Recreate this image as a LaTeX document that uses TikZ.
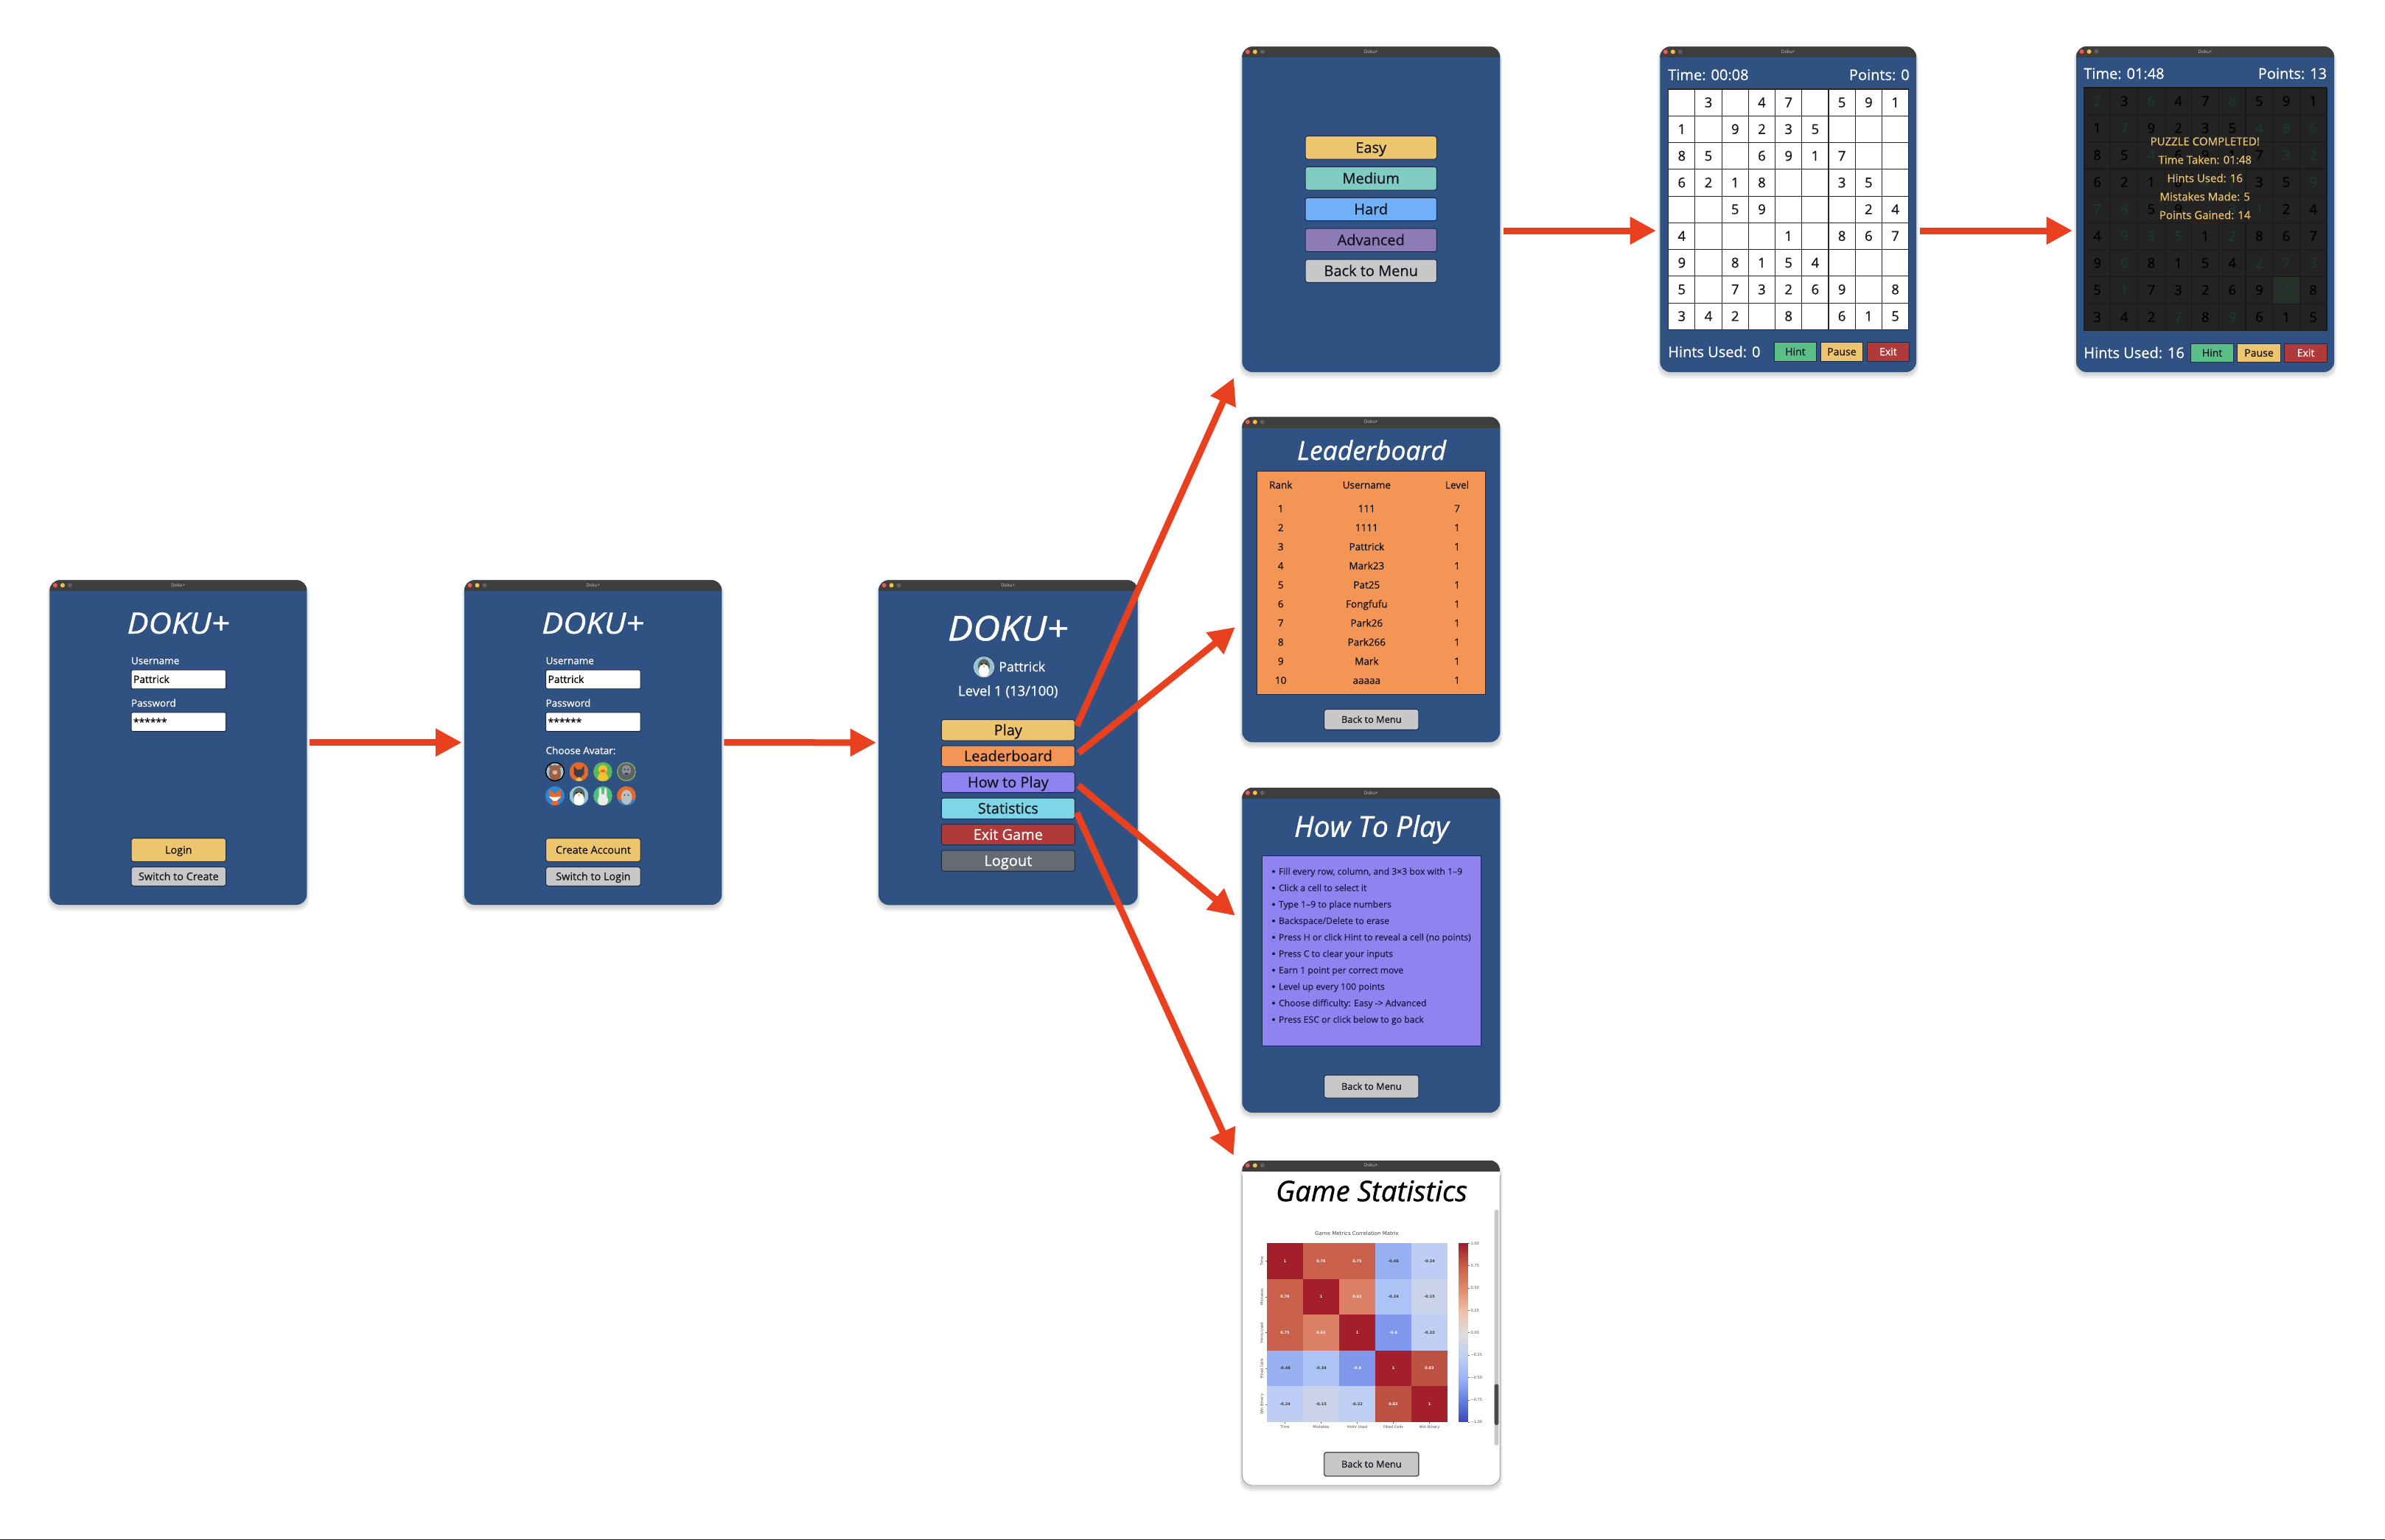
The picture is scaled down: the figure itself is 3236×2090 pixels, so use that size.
\documentclass[tikz,border=0pt]{standalone}
\usepackage{fontspec}
\setmainfont{Open Sans}
\newfontfamily\semi{Open Sans}[FakeBold=0.6]
\newfontfamily\ttl{Open Sans}[FakeBold=1]
\newfontfamily\ttlw{Open Sans}[FakeBold=1,FakeStretch=1.1]
\newfontfamily\plotf{DejaVu Sans}
\usetikzlibrary{arrows.meta,calc}
\definecolor{winblue}{HTML}{305282}
\definecolor{barc}{HTML}{3F3E3D}
\definecolor{edgec}{HTML}{1E2A45}
\definecolor{arrowc}{HTML}{E9411F}
\definecolor{yel}{HTML}{EDC56F}
\definecolor{ora}{HTML}{F29555}
\definecolor{pur}{HTML}{8F84EF}
\definecolor{cya}{HTML}{7ED5E6}
\definecolor{redb}{HTML}{B03A3A}
\definecolor{grb}{HTML}{666B73}
\definecolor{lgr}{HTML}{C8C8C8}
\definecolor{med}{HTML}{80CBC2}
\definecolor{har}{HTML}{70B0F8}
\definecolor{adv}{HTML}{8C7BB7}
\definecolor{grn}{HTML}{5AC088}
\definecolor{darkt}{HTML}{14141E}
\definecolor{overc}{HTML}{232323}
\definecolor{hintd}{HTML}{1A3A32}
\definecolor{hr}{HTML}{A21F2B}
\definecolor{hs}{HTML}{C9604B}
\definecolor{ht}{HTML}{DB8064}
\definecolor{he}{HTML}{BD5142}
\definecolor{bf}{HTML}{98B0F1}
\definecolor{bt}{HTML}{BDCDF4}
\definecolor{bh}{HTML}{ADC3F5}
\definecolor{bo}{HTML}{CAD3EA}
\definecolor{bw}{HTML}{BFCFF3}
\definecolor{bx}{HTML}{8098EC}
\definecolor{cba}{HTML}{A21C29}
\definecolor{cbb}{HTML}{C9614A}
\definecolor{cbc}{HTML}{DE8C6B}
\definecolor{cbd}{HTML}{F0BFA8}
\definecolor{cbe}{HTML}{DEDCDC}
\definecolor{cbf}{HTML}{BFCFF2}
\definecolor{cbg}{HTML}{99B3F5}
\definecolor{cbh}{HTML}{5F80E0}
\definecolor{cbi}{HTML}{3B47B5}
\colorlet{hmw}{white}
\colorlet{hmk}{black!80}
\definecolor{dotr}{HTML}{EC5A55}
\definecolor{doty}{HTML}{F3BD4F}
\definecolor{dotg}{HTML}{606060}
\definecolor{avbb}{HTML}{9CC4DC}
\definecolor{avbr}{HTML}{9A6048}
\definecolor{avbl}{HTML}{D9B59A}
\definecolor{avor}{HTML}{E8682A}
\definecolor{avdk}{HTML}{3A3F4A}
\definecolor{avyl}{HTML}{F2C230}
\definecolor{avgn}{HTML}{58B85C}
\definecolor{avlm}{HTML}{8AB04A}
\definecolor{avgr}{HTML}{5A6466}
\definecolor{avgl}{HTML}{8A9496}
\definecolor{avbu}{HTML}{2F86D6}
\definecolor{avpb}{HTML}{8FC6D2}
\definecolor{avga}{HTML}{4FBF78}
\definecolor{gcell}{HTML}{263028}
\definecolor{dred}{HTML}{3A1C1C}
\definecolor{hnav}{HTML}{1C1B48}
\definecolor{thumb}{HTML}{4A4A4A}
\newcommand{\vc}[1]{\smash{\raisebox{-.35em}{#1}}}
\newcount\nn
\newcommand{\tx}[3][]{\global\advance\nn by 1 \node[txt,#1] (t\the\nn) at (#2) {\vc{#3}};}
\newcommand{\win}[6]{%
 \foreach \sh in {1,...,7}{\fill[black,opacity=.022,rounded corners=15] (#2-\sh*.5,#3+3) rectangle (#4+\sh*.5,#5+2+\sh);}
 \pgfmathsetmacro\cxa{(#2+#4)/2}\pgfmathsetmacro\cya{(#3+#5)/2}
 \pgfmathsetmacro\wa{#4-#2}\pgfmathsetmacro\ha{#5-#3}
 \node[winbox,fill=#6,minimum width=\wa,minimum height=\ha] (#1) at (\cxa,\cya) {};
 \begin{scope}
 \clip[rounded corners=14] (#2,#3) rectangle (#4,#5);
 \fill[barc] (#2,#3) rectangle (#4,#3+15);
 \end{scope}
 \fill[dotr] (#2+7.5,#3+7) circle (3);
 \fill[doty] (#2+17.5,#3+7) circle (3);
 \fill[dotg] (#2+27.5,#3+7) circle (3);
 \tx[font=\fontsize{6.2}{7}\selectfont,text=lgr]{\cxa,#3+7}{Doku+}
}
\newcommand{\btn}[7][]{%
 \pgfmathsetmacro\hb{#5-#4}\pgfmathsetmacro\cyb{(#4+#5)/2}
 \node[btnbox,fill=#6,minimum height=\hb,#1] (#2) at (#3,\cyb) {\vc{#7}};
}
\newcommand{\ava}[3]{%
 \begin{scope}[shift={(#1,#2)}]
 \clip (0,0) circle (13);
 #3
 \end{scope}
}
\newcommand{\penguin}{\fill[avpb] (-13,-13) rectangle (13,13);\fill[avgr] (0,-1) ellipse (8 and 10);\fill[white] (0,5) ellipse (7 and 9);\fill[black] (-3,-4) circle (1.2);\fill[black] (3,-4) circle (1.2);\fill[avyl] (-2,-2)--(2,-2)--(0,1)--cycle;}
\def\hmcell#1:#2:#3\relax{%
 \fill[#1] (1719+49*\c,1687.3+48.53*\r) rectangle ++(49,48.53);
 \tx[hm,text=hm#3]{1743.5+49*\c,1711.6+48.53*\r}{#2}
}
\tikzset{
 txt/.style={inner sep=0,outer sep=0,anchor=center},
 winbox/.style={rectangle,rounded corners=14,inner sep=0,outer sep=0},
 btnbox/.style={rectangle,rounded corners=3,draw=edgec,line width=1,inner sep=0,outer sep=0,text=darkt,anchor=center},
 flatbtn/.style={rounded corners=0},
 inp/.style={rectangle,rounded corners=2,draw=edgec,line width=1,fill=white,inner sep=0,outer sep=0,minimum width=128.5,minimum height=25.7},
 flow/.style={draw=arrowc,line width=9,-{Triangle[length=35.5pt,width=35.5pt]}},
 lab/.style={font=\fontsize{13.5}{16}\semi,text=white,anchor=west},
 sb/.style={minimum width=128.5,font=\fontsize{14.4}{16}\semi},
}
\begin{document}
\begin{tikzpicture}[x=1pt,y=-1pt]
\useasboundingbox (0,0) rectangle (3236,2090);
\fill[white] (0,0) rectangle (3236,2090);
\fill[black!85] (0,2088.5) rectangle (3236,2090);
% ---------- Login
\win{wlogin}{67.4}{787.3}{416.3}{1228}{winblue}
\win{wcreate}{630}{787.3}{979.4}{1228}{winblue}
\foreach \dx/\nm in {0/a,562.6/b}{
 \tx[text=white,font=\fontsize{39.5}{44}\ttlw\itshape]{242+\dx,846}{DOKU+}
 \tx[lab]{178+\dx,896.7}{Username}
 \node[inp] (in1\nm) at (242.3+\dx,922) {};
 \tx[anchor=west,text=black,font=\fontsize{13.8}{16}\semi]{181+\dx,922}{Pattrick}
 \tx[lab]{178+\dx,954.3}{Password}
 \node[inp] (in2\nm) at (242.3+\dx,979.7) {};
 \tx[anchor=west,text=black,font=\fontsize{13.8}{16}\semi]{181+\dx,980}{******}
}
\btn[sb]{bl}{242.3}{1137.7}{1169.3}{yel}{Login}
\btn[sb]{bs}{242.3}{1176.7}{1202.3}{lgr}{Switch to Create}
\btn[sb]{bc}{804.9}{1137.7}{1169.3}{yel}{Create Account}
\btn[sb]{bt}{804.9}{1176.7}{1202.3}{lgr}{Switch to Login}
\tx[lab]{740.6,1018.7}{Choose Avatar:}
% avatars
\ava{753}{1047.3}{\fill[avbb] (-13,-13) rectangle (13,13);\fill[avbr] (0,2) ellipse (8 and 11);\fill[avbr] (-6,-7) circle (2.5);\fill[avbr] (6,-7) circle (2.5);\fill[avbl] (0,1) ellipse (3.5 and 3);}
\draw[black,line width=1.5] (753,1047.3) circle (12.5);
\ava{785.5}{1047.3}{\fill[avor] (-13,-13) rectangle (13,13);\fill[avdk] (-7,-8)--(-3,-3)--(3,-3)--(7,-8)--(7,3)--(0,10)--(-7,3)--cycle;\fill[avyl] (-4,10)--(0,7)--(4,10)--(4,13)--(-4,13)--cycle;}
\ava{818}{1047.3}{\fill[avgn] (-13,-13) rectangle (13,13);\fill[avyl] (0,-3) circle (6);\fill[avyl] (0,8) ellipse (7 and 7);\fill[avor] (0,-1) ellipse (3.5 and 2);}
\ava{850}{1047.3}{\fill[avlm] (-13,-13) rectangle (13,13);\fill[avgr] (0,0) circle (11.5);\fill[avgl] (0,-2) ellipse (6 and 7);\fill[avdk] (-2.3,-3) circle (1.3);\fill[avdk] (2.3,-3) circle (1.3);\fill[avdk] (0,3) ellipse (3 and 1.5);}
\ava{753}{1080}{\fill[avbu] (-13,-13) rectangle (13,13);\fill[avor] (-8,-9)--(0,-3)--(8,-9)--(8,3)--(0,9)--(-8,3)--cycle;\fill[white] (-8,1)--(0,9)--(8,1)--(0,2)--cycle;\fill[avor] (0,12) ellipse (6 and 5);}
\ava{785.5}{1080}{\penguin}
\ava{818}{1080}{\fill[avga] (-13,-13) rectangle (13,13);\fill[white!92!black] (-3.5,-3) ellipse (2 and 8);\fill[white!92!black] (3.5,-3) ellipse (2 and 8);\fill[white!92!black] (0,6) ellipse (7 and 8);}
\ava{850}{1080}{\fill[avor] (-13,-13) rectangle (13,13);\fill[avbu] (-13,5) rectangle (13,13);\fill[avgl!60!white] (0,2) ellipse (7.5 and 10);\fill[avdk] (-2.5,-1) circle (1);\fill[avdk] (2.5,-1) circle (1);}
% ---------- Menu
\win{wmenu}{1192}{787.3}{1543.7}{1228.3}{winblue}
\tx[text=white,font=\fontsize{46.5}{50}\ttlw\itshape]{1367.7,853}{DOKU+}
\ava{1335}{905.3}{\penguin}
\draw[white!85!black,line width=1] (1335,905.3) circle (13.5);
\tx[text=white,anchor=west,font=\fontsize{17.8}{20}\semi]{1355.3,905}{Pattrick}
\tx[text=white,font=\fontsize{18.6}{20}\semi]{1367.7,937.7}{Level 1 (13/100)}
\tikzset{mb/.style={minimum width=181,font=\fontsize{20}{24}\semi}}
\btn[mb]{mplay}{1367.8}{976.7}{1005}{yel}{Play}
\btn[mb]{mlead}{1367.8}{1012}{1040.3}{ora}{Leaderboard}
\btn[mb]{mhow}{1367.8}{1047.7}{1075.7}{pur}{How to Play}
\btn[mb]{mstat}{1367.8}{1083}{1111.3}{cya}{Statistics}
\btn[mb,text=white]{mexit}{1367.8}{1118.7}{1146.7}{redb}{Exit Game}
\btn[mb,text=white]{mlog}{1367.8}{1154}{1182.3}{grb}{Logout}
% ---------- Difficulty
\win{wdiff}{1685.3}{63.3}{2035.3}{505}{winblue}
\tikzset{db/.style={minimum width=178.3,font=\fontsize{20}{24}\semi}}
\btn[db]{deasy}{1860.2}{184.7}{216}{yel}{Easy}
\btn[db]{dmed}{1860.2}{226.3}{258}{med}{Medium}
\btn[db]{dhard}{1860.2}{268.3}{299.7}{har}{Hard}
\btn[db]{dadv}{1860.2}{310}{341.7}{adv}{Advanced}
\btn[db]{dback}{1860.2}{352}{383.3}{lgr}{Back to Menu}
% ---------- Sudoku
\win{wgame}{2252.3}{63.3}{2600}{505}{winblue}
\tikzset{gt/.style={text=white,font=\fontsize{20}{24}\semi}}
\tx[gt,anchor=west]{2263.3,101.7}{Time: 00:08}
\tx[gt,anchor=east]{2590.7,101.7}{Points: 0}
\tx[gt,anchor=west]{2263.3,477.7}{Hints Used: 0}
\fill[white] (2263.7,121) rectangle (2589.7,447.3);
\foreach \i in {0,...,9}{
 \pgfmathsetmacro\xx{2263.7+36.22*\i}\pgfmathsetmacro\yy{121+36.26*\i}
 \pgfmathparse{mod(\i,3)==0?1.4:1}\let\lw\pgfmathresult
 \draw[black!85,line width=\lw] (\xx,121) -- (\xx,447.3);
 \draw[black!85,line width=\lw] (2263.7,\yy) -- (2589.7,\yy);
}
\foreach \r/\row in {0/{0,3,0,4,7,0,5,9,1},1/{1,0,9,2,3,5,0,0,0},2/{8,5,0,6,9,1,7,0,0},3/{6,2,1,8,0,0,3,5,0},4/{0,0,5,9,0,0,0,2,4},5/{4,0,0,0,1,0,8,6,7},6/{9,0,8,1,5,4,0,0,0},7/{5,0,7,3,2,6,9,0,8},8/{3,4,2,0,8,0,6,1,5}}{
 \foreach \d [count=\c from 0] in \row {
  \ifnum\d>0 \tx[text=darkt,font=\fontsize{18.5}{22}\semi]{2281.8+36.22*\c,139.1+36.26*\r}{\d}\fi
 }
}
\tikzset{gb/.style={flatbtn,minimum width=57.7,font=\fontsize{14}{16}\semi}}
\btn[gb]{ghint}{2435.9}{464.7}{490}{grn}{Hint}
\btn[gb]{gpause}{2498.9}{464.7}{490}{yel}{Pause}
\btn[gb,text=white]{gexit}{2561.9}{464.7}{490}{redb}{Exit}
% ---------- Completed
\win{wdone}{2817}{63}{3167}{505}{winblue}
\tx[gt,anchor=west]{2827.3,100}{Time: 01:48}
\tx[gt,anchor=east]{3157,100}{Points: 13}
\tx[gt,anchor=west]{2827.3,479}{Hints Used: 16}
\fill[overc] (2827.3,119) rectangle (3157,448.7);
\fill[gcell] (2827.3+36.63*7,119+36.63*7) rectangle ++(36.63,36.63);
\foreach \i in {0,...,9}{
 \pgfmathsetmacro\xx{2827.3+36.63*\i}\pgfmathsetmacro\yy{119+36.63*\i}
 \pgfmathparse{mod(\i,3)==0?1.4:1}\let\lw\pgfmathresult
 \draw[black!90,line width=\lw] (\xx,119) -- (\xx,448.7);
 \draw[black!90,line width=\lw] (2827.3,\yy) -- (3157,\yy);
}
\draw[dred,line width=1] (2827.3+36.63*4,119+36.63*4) rectangle ++(36.63,36.63);
\foreach \r/\row/\gv in {0/{2,3,6,4,7,8,5,9,1}/{0,1,0,1,1,0,1,1,1},1/{1,7,9,2,3,5,4,8,6}/{1,0,1,1,1,1,0,0,0},2/{8,5,4,6,9,1,7,3,2}/{1,1,0,1,1,1,1,0,0},3/{6,2,1,8,4,7,3,5,9}/{1,1,1,1,0,0,1,1,0},4/{7,8,5,9,0,3,1,2,4}/{0,0,1,1,0,0,0,1,1},5/{4,9,3,5,1,2,8,6,7}/{1,0,0,0,1,0,1,1,1},6/{9,6,8,1,5,4,2,7,3}/{1,0,1,1,1,1,0,0,0},7/{5,1,7,3,2,6,9,4,8}/{1,0,1,1,1,1,1,0,1},8/{3,4,2,7,8,9,6,1,5}/{1,1,1,0,1,0,1,1,1}}{
 \foreach \d [count=\c from 0] in \row {
  \ifnum\d>0
   \pgfmathparse{{\gv}[\c]}\pgfmathtruncatemacro\gg{\pgfmathresult}
   \ifnum\gg=1 \def\dc{black}\else\def\dc{hintd}\fi
   \tx[text=\dc,font=\fontsize{18.5}{22}\semi]{2845.6+36.63*\c,137.3+36.63*\r}{\d}
  \fi
 }
}
\tikzset{ov/.style={text=yel,font=\fontsize{15}{18}\semi}}
\tx[ov]{2991.7,192}{PUZZLE COMPLETED!}
\tx[ov]{2991.7,217}{Time Taken: 01:48}
\tx[ov]{2991.7,242}{Hints Used: 16}
\tx[ov]{2991.7,267}{Mistakes Made: 5}
\tx[ov]{2991.7,292}{Points Gained: 14}
\btn[gb,minimum width=58.4]{dhint}{3001.5}{466.3}{491.7}{grn}{Hint}
\btn[gb,minimum width=58.4]{dpause}{3065}{466.3}{491.7}{yel}{Pause}
\btn[gb,minimum width=58.4,text=white]{dexit}{3128.5}{466.3}{491.7}{redb}{Exit}
% ---------- Leaderboard
\win{wlead}{1685.3}{565.7}{2035.3}{1007.3}{winblue}
\tx[text=white,font=\fontsize{35.5}{42}\ttl\itshape]{1861,611.7}{Leaderboard}
\node[rectangle,draw=edgec,line width=1,fill=ora,inner sep=0,minimum width=310,minimum height=303.3] (ltab) at (1860.7,790.7) {};
\tikzset{lt/.style={text=darkt,font=\fontsize{13.5}{17}\semi}}
\tx[lt]{1737.7,658.3}{Rank}\tx[lt]{1854.3,658.3}{Username}\tx[lt]{1977,658.3}{Level}
\foreach \i/\u/\l [count=\k from 0] in {1/111/7,2/1111/1,3/Pattrick/1,4/Mark23/1,5/Pat25/1,6/Fongfufu/1,7/Park26/1,8/Park266/1,9/Mark/1,10/aaaaa/1}{
 \tx[lt]{1737.7,690.3+25.9*\k}{\i}\tx[lt]{1854.3,690.3+25.9*\k}{\u}\tx[lt]{1977,690.3+25.9*\k}{\l}
}
\tikzset{bk/.style={minimum width=128.3,font=\fontsize{12.8}{16}\semi}}
\btn[bk]{lback}{1860.8}{962.7}{990.3}{lgr}{Back to Menu}
% ---------- How to play
\win{whow}{1685.3}{1069}{2035.3}{1510}{winblue}
\tx[text=white,font=\fontsize{39}{42}\ttl\itshape]{1861,1122}{How To Play}
\node[rectangle,draw=edgec,line width=1,fill=pur,inner sep=0,minimum width=297,minimum height=257.6] (htab) at (1860.8,1290.5) {};
\foreach \s [count=\k from 0] in {{Fill every row, column, and 3×3 box with 1–9},Click a cell to select it,Type 1–9 to place numbers,Backspace/Delete to erase,Press H or click Hint to reveal a cell (no points),Press C to clear your inputs,Earn 1 point per correct move,Level up every 100 points,Choose difficulty: Easy -> Advanced,Press ESC or click below to go back}{
 \pgfmathsetmacro\yy{1182.7+22.33*\k}
 \fill[hnav] (1728,\yy) circle (2);
 \tx[anchor=west,text=hnav,font=\fontsize{12.2}{16}\semi]{1735,\yy}{\s}
}
\btn[bk]{hback}{1860.8}{1459}{1490}{lgr}{Back to Menu}
% ---------- Statistics
\win{wstat}{1685.3}{1574.7}{2035.3}{2016}{white}
\draw[black!45,line width=.7,rounded corners=14] (1685.3,1595) -- (1685.3,2016) -- (2035.3,2016) -- (2035.3,1595);
\tx[text=black,font=\fontsize{38.5}{42}\ttl\itshape]{1861,1616.7}{Game Statistics}
\fill[lgr,rounded corners=2.7] (2027.7,1641.7) rectangle (2033.3,1961.7);
\fill[thumb,rounded corners=2.7] (2027.7,1878.3) rectangle (2033.3,1934);
\tikzset{hm/.style={font=\fontsize{5}{7}\plotf\bfseries},htk/.style={font=\fontsize{5.1}{7}\plotf,text=black!70}}
\tx[text=black!75,font=\fontsize{7}{10}\plotf]{1841,1673.7}{Game Metrics Correlation Matrix}
\foreach \r/\row in {0/{hr:1:w,hs:0.76:w,hs:0.75:w,bf:-0.48:k,bt:-0.24:k},1/{hs:0.76:w,hr:1:w,ht:0.62:w,bh:-0.34:k,bo:-0.15:k},2/{hs:0.75:w,ht:0.62:w,hr:1:w,bx:-0.6:w,bw:-0.22:k},3/{bf:-0.48:k,bh:-0.34:k,bx:-0.6:w,hr:1:w,he:0.83:w},4/{bt:-0.24:k,bo:-0.15:k,bw:-0.22:k,he:0.83:w,hr:1:w}}{
 \foreach \e [count=\c from 0] in \row {
  \expandafter\hmcell\e\relax
 }
}
\foreach \n [count=\c from 0] in {Time,Mistakes,Hints Used,Filled Cells,Win Binary}{
 \pgfmathsetmacro\xx{1743.5+49*\c}\pgfmathsetmacro\yy{1711.6+48.53*\c}
 \tx[htk]{\xx,1937}{\n}
 \tx[htk,rotate=90]{1712,\yy}{\n}
 \draw[black!60,line width=.4] (\xx,1930) -- (\xx,1932);
 \draw[black!60,line width=.4] (1719,\yy) -- (1717,\yy);
}
\foreach \ca/\cb [count=\sg from 0] in {cba/cbb,cbb/cbc,cbc/cbd,cbd/cbe,cbe/cbf,cbf/cbg,cbg/cbh,cbh/cbi}{
 \foreach \st in {0,...,7}{
  \pgfmathsetmacro\yy{1687.3+30.34*\sg+3.7925*\st}
  \pgfmathtruncatemacro\pc{100-\st*100/8}
  \fill[\ca!\pc!\cb] (1978.7,\yy) rectangle (1991.7,\yy+4.1);
 }
}
\foreach \v [count=\c from 0] in {1.00,0.75,0.50,0.25,0.00,−0.25,−0.50,−0.75,−1.00}{
 \pgfmathsetmacro\yy{1687.3+30.34*\c}
 \draw[black!60,line width=.4] (1991.7,\yy) -- (1993.7,\yy);
 \tx[htk,anchor=west]{1995.5,\yy}{\v}
}
\btn[bk,draw=black!65,line width=1.5]{sback}{1860.8}{1971}{2003.3}{lgr}{Back to Menu}
% ---------- Connectors
\coordinate (a3) at (1674,512.7);
\coordinate (a4) at (1676,851);
\coordinate (a5) at (1676,1242.7);
\coordinate (a6) at (1673.7,1568.3);
\coordinate (a7s) at (2040,313);
\coordinate (a7e) at (2247,313);
\coordinate (a8s) at (2605,313);
\coordinate (a8e) at (2812,313);
\draw[flow,shorten <=3.2pt,shorten >=3.3pt] (wlogin.east) -- (wcreate.west);
\draw[flow,shorten <=3pt,shorten >=3pt] (wcreate.east) -- (wmenu.west);
\draw[flow,shorten <=6.5pt] (mplay.east) -- (a3);
\draw[flow,shorten <=6.5pt] (mlead.east) -- (a4);
\draw[flow,shorten <=6.5pt] (mhow.east) -- (a5);
\draw[flow,shorten <=6.5pt] (mstat.east) -- (a6);
\draw[flow] (a7s) -- (a7e);
\draw[flow] (a8s) -- (a8e);
\end{tikzpicture}
\end{document}
